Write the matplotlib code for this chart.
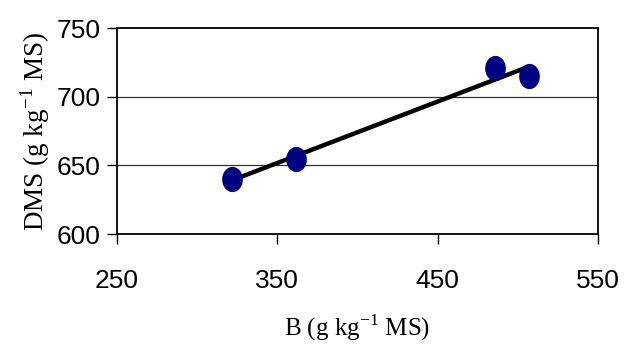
import numpy as np
import matplotlib
matplotlib.use("Agg")
import matplotlib.pyplot as plt
from matplotlib.path import Path
from matplotlib.transforms import Affine2D

b_values = [322, 362, 486, 507]
dms_values = [640, 655, 721, 715]
x_ticks = [250, 350, 450, 550]
y_ticks = [600, 650, 700, 750]

fig = plt.figure(figsize=(6.24, 3.52), dpi=100)
ax = fig.add_axes([0.1875, 0.335, 0.7705, 0.585])

# regression line
coef = np.polyfit(b_values, dms_values, 1)
xs = np.array([min(b_values), max(b_values)])
ax.plot(xs, np.polyval(coef, xs), color="black", lw=3.2, zorder=3, solid_capstyle="butt")

ellipse = Path.unit_circle().transformed(Affine2D().scale(0.82, 1.0))
ax.scatter(b_values, dms_values, marker=ellipse, s=330, color="#000080", zorder=4, linewidths=0)

ax.set_xlim(250, 550)
ax.set_ylim(600, 750)
ax.set_xticks(x_ticks)
ax.set_yticks(y_ticks)
for y in [650, 700]:
    ax.axhline(y, color="#333333", lw=0.9, zorder=1)

for s in ax.spines.values():
    s.set_linewidth(1.3)
    s.set_color("black")

ax.tick_params(axis="x", direction="out", length=7, width=1, pad=18, labelsize=19)
ax.tick_params(axis="y", direction="out", length=7, width=1, pad=5, labelsize=19)
for lab in ax.get_xticklabels() + ax.get_yticklabels():
    lab.set_family("Liberation Sans")

ax.set_ylabel("DMS (g kg$^{\\mathregular{-1}}$ MS)", family="Liberation Serif", fontsize=19.5, labelpad=3)
ax.set_xlabel("B (g kg$^{\\mathregular{-1}}$ MS)", family="Liberation Serif", fontsize=18, labelpad=14)

fig.savefig("out.png", dpi=100)
